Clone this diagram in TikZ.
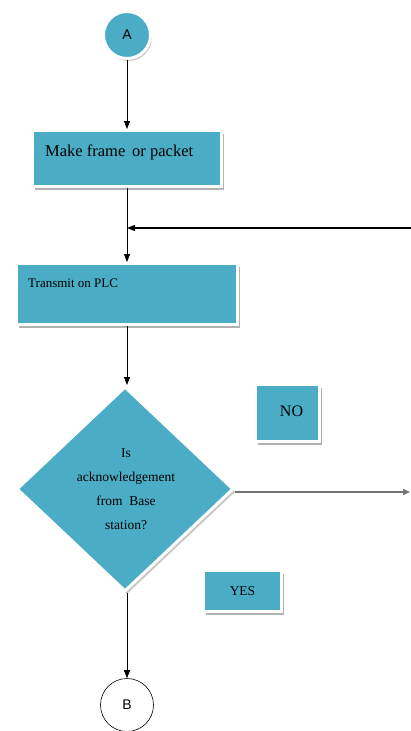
\documentclass[tikz,border=0pt]{standalone}
\usepackage{fontspec}
\setmainfont{Liberation Serif}
\newfontfamily\sansf{Liberation Sans}
\usetikzlibrary{shapes.geometric,shadows,arrows.meta}
\definecolor{tealfill}{RGB}{75,172,198}
\begin{document}
\begin{tikzpicture}[x=1pt,y=-1pt,
  boxst/.style={rectangle, draw=white, line width=3pt, fill=tealfill, inner sep=0pt, text=black,
    general shadow={fill=black!30, shadow xshift=2.5pt, shadow yshift=-3pt}},
  diast/.style={diamond, aspect=1, draw=white, line width=3pt, fill=tealfill, inner sep=0pt,
    general shadow={fill=black!22, shadow xshift=2pt, shadow yshift=-3pt}},
  arr/.style={-{Triangle[length=8pt,width=6pt]}, line width=0.8pt, black},
  txt/.style={inner sep=0pt, text=black}
]
\path[use as bounding box, fill=white] (0,0) rectangle (411,731);

% start circle A
\node[circle, draw=white, line width=3pt, fill=tealfill, minimum size=47pt, inner sep=0pt,
  general shadow={fill=black!22, shadow xshift=1.5pt, shadow yshift=-2.5pt},
  font=\sansf\fontsize{14}{16}\selectfont]
  (A) at (127,35) {A};

% box 1
\node[boxst, minimum width=189pt, minimum height=56pt] (box1) at (127,158.5) {};
\node[txt, anchor=west, font=\fontsize{16.5}{19}\selectfont] (t1) at (45,152) {Make frame\, or packet};

% box 2
\node[boxst, minimum width=221pt, minimum height=61pt] (box2) at (127,294) {};
\node[txt, anchor=west, font=\fontsize{13}{16}\selectfont] (t2) at (28,283) {Transmit on PLC};

% decision diamond
\node[diast, minimum width=217pt, minimum height=205pt] (dec) at (125,489) {};
\node[txt, align=center, font=\fontsize{13.5}{24}\selectfont] (t3) at (126,489)
  {Is\\acknowledgement\\from\ \ Base\\station?};

% NO / YES labels
\node[boxst, minimum width=64pt, minimum height=57pt, font=\fontsize{16}{18}\selectfont] (no) at (287.5,413)
  {\raisebox{4pt}{\hspace{8pt}NO}};
\node[boxst, minimum width=78pt, minimum height=41pt, font=\fontsize{13.5}{16}\selectfont] (yes) at (242.5,591)
  {YES\hspace{12pt}};

% end circle B
\node[circle, draw=black, line width=0.6pt, fill=white, minimum size=53pt, inner sep=0pt,
  font=\sansf\fontsize{14}{16}\selectfont]
  (B) at (127,705) {B};

% connectors
\coordinate (fbin) at (411,228);
\coordinate (noout) at (410,492);
\draw[arr] (A.south) -- (box1.north);
\draw[arr] (box1.south) -- (box2.north);
\draw[-{Triangle[length=8pt,width=6pt]}, line width=1.3pt, black] (fbin) -- (fbin -| box1.south);
\draw[arr] (box2.south) -- (box2.south |- dec.north);
\draw[-{Triangle[length=7pt,width=6pt]}, line width=1.6pt, black!55] (dec.east |- noout) -- (noout);
\draw[arr] (box2.south |- dec.south) -- (B.north);
\end{tikzpicture}
\end{document}
